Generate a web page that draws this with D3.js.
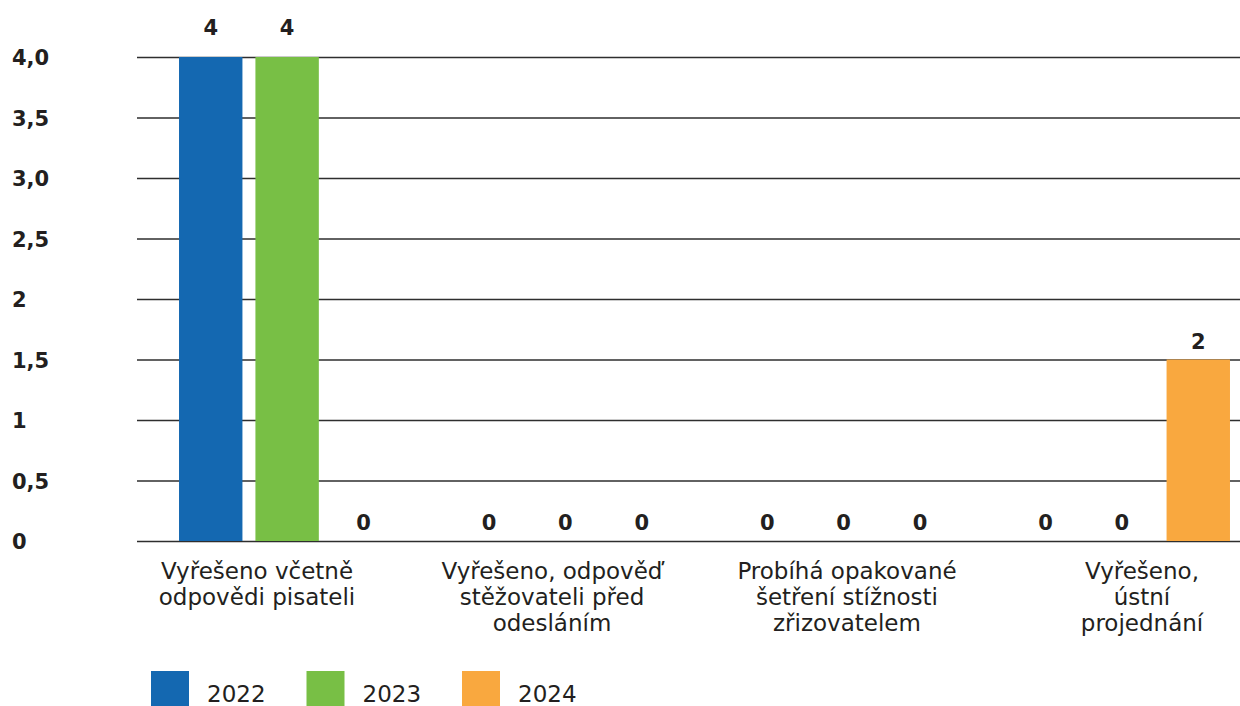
<!DOCTYPE html>
<meta charset="utf-8">
<title>Stížnosti podle výsledku</title>
<style>
  body { margin: 0; background: #fff; }
  svg { display: block; font-family: "DejaVu Sans", sans-serif; }
  .grid line { stroke: #2e2e2e; stroke-width: 1.3px; }
  .grid text { font-size: 21px; font-weight: bold; fill: #231f20; font-family: "DejaVu Sans", sans-serif; }
  .val { font-size: 21px; font-weight: bold; fill: #231f20; text-anchor: middle; }
  .cat { font-size: 23px; fill: #231f20; text-anchor: middle; }
  .leg text { font-size: 23px; fill: #231f20; }
</style>
<body>
<script src="https://cdn.jsdelivr.net/npm/d3@7"></script>
<script>

var width = 1240,
    height = 706;

// data
var categories = ["A", "B", "C", "D"];
var categoryLines = [
  ["Vyřešeno včetně", "odpovědi pisateli"],
  ["Vyřešeno, odpověď", "stěžovateli před", "odesláním"],
  ["Probíhá opakované", "šetření stížnosti", "zřizovatelem"],
  ["Vyřešeno,", "ústní", "projednání"]
];
var years = ["2022", "2023", "2024"];
var values2022 = [4, 0, 0, 0];
var values2023 = [4, 0, 0, 0];
var values2024 = [0, 0, 0, 1.5];
var tickValues = [0, 0.5, 1, 1.5, 2, 2.5, 3, 3.5, 4];
var tickLabels = ["0", "0,5", "1", "1,5", "2", "2,5", "3,0", "3,5", "4,0"];
var colors = ["#1468b1", "#78bf45", "#f9a83f"];

var seriesValues = [values2022, values2023, values2024];

var rows = categories.map(function(c, i) {
  return { cat: c, vals: years.map(function(y, j) { return { year: y, v: seriesValues[j][i] }; }) };
});

var gridLeft = 137, gridRight = 1240;

var svg = d3.select("body").append("svg")
  .attr("width", width)
  .attr("height", height);

var y = d3.scaleLinear().domain([0, 4]).range([541, 57]);

var x0 = d3.scaleBand().domain(categories)
  .range([148, 1261])
  .paddingInner(0.223)
  .paddingOuter(0.1115);

var x1 = d3.scaleBand().domain(years)
  .range([0, x0.bandwidth()])
  .paddingInner(0.17);

// category label positions
var xl = d3.scalePoint().domain(categories).range([257, 1142]);

var color = d3.scaleOrdinal().domain(years).range(colors);

// grid + y labels
var gAxis = svg.append("g")
  .attr("class", "grid")
  .attr("transform", "translate(" + gridLeft + ",0)")
  .call(d3.axisLeft(y)
    .tickValues(tickValues)
    .tickFormat(function(d, i) { return tickLabels[i]; })
    .tickSize(-(gridRight - gridLeft)));

gAxis.attr("font-size", null).attr("font-family", null);
gAxis.select(".domain").remove();
gAxis.selectAll("text")
  .attr("x", -(gridLeft - 12))
  .attr("text-anchor", "start")
  .attr("dy", "0.36em");

// bars
var groups = svg.selectAll(".group")
  .data(rows)
  .enter().append("g")
  .attr("class", "group")
  .attr("transform", function(d) { return "translate(" + x0(d.cat) + ",0)"; });

groups.selectAll("rect")
  .data(function(d) { return d.vals.filter(function(e) { return e.v > 0; }); })
  .enter().append("rect")
  .attr("x", function(d) { return x1(d.year); })
  .attr("y", function(d) { return y(d.v); })
  .attr("width", x1.bandwidth())
  .attr("height", function(d) { return y(0) - y(d.v); })
  .attr("fill", function(d) { return color(d.year); });

var fmt = d3.format(".0f");

groups.selectAll(".val")
  .data(function(d) { return d.vals; })
  .enter().append("text")
  .attr("class", "val")
  .attr("x", function(d) { return x1(d.year) + x1.bandwidth() / 2; })
  .attr("y", function(d) { return y(d.v) - (d.v >= 4 ? 22 : 11); })
  .text(function(d) { return fmt(d.v); });

// category labels
svg.selectAll(".cat")
  .data(categories)
  .enter().append("text")
  .attr("class", "cat")
  .attr("x", function(d) { return xl(d); })
  .attr("y", 579)
  .each(function(d, i) {
    var t = d3.select(this);
    categoryLines[i].forEach(function(line, k) {
      t.append("tspan")
        .attr("x", xl(d))
        .attr("dy", k === 0 ? 0 : 26)
        .text(line);
    });
  });

// legend
var leg = svg.append("g").attr("class", "leg");
var legItems = leg.selectAll("g")
  .data(years)
  .enter().append("g")
  .attr("transform", function(d, i) { return "translate(" + (151 + i * 155.5) + ",671)"; });

legItems.append("rect")
  .attr("width", 38)
  .attr("height", 36)
  .attr("fill", function(d) { return color(d); });

legItems.append("text")
  .attr("x", 56)
  .attr("y", 31)
  .text(function(d) { return d; });

</script>
</body>
